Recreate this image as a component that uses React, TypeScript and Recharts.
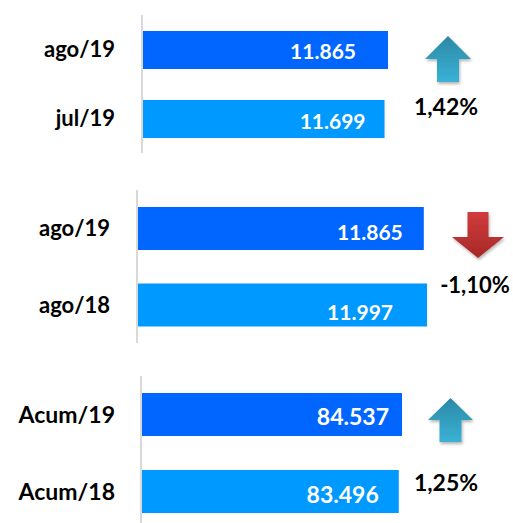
import { BarChart, Bar, XAxis, YAxis, Cell, LabelList } from "recharts";

// month vs previous month
const monthLabels = ["ago/19", "jul/19"];
const monthValues = [11865, 11699];
// month vs same month last year
const yearLabels = ["ago/19", "ago/18"];
const yearValues = [11865, 11997];
// accumulated
const accumLabels = ["Acum/19", "Acum/18"];
const accumValues = [84537, 83496];

const BAR_COLORS = ["#0066FF", "#0099FF"];
const FONT = "Lato, 'Open Sans', sans-serif";

const fmtInt = (v: number) =>
  String(v).replace(/\B(?=(\d{3})+(?!\d))/g, ".");

const fmtPct = (a: number, b: number) =>
  ((a / b - 1) * 100).toFixed(2).replace(".", ",") + "%";

const PANELS = [
  {
    labels: monthLabels,
    values: monthValues,
    top: 0,
    height: 175,
    margin: { top: 15, right: 125, bottom: 22, left: 0 },
    axisW: 142,
    tickMargin: 27,
    barSize: 38,
    tickFont: 22,
    valueFont: 21,
    valueOffsets: [32, 19],
    valueDy: [1.5, 2.5],
    arrow: { cx: 448, top: 36, bottom: 82, headW: 46, stemW: 22, headH: 23 },
    pct: { x: 446, y: 115, size: 23 },
  },
  {
    labels: yearLabels,
    values: yearValues,
    top: 175,
    height: 175,
    margin: { top: 15, right: 86, bottom: 7, left: 0 },
    axisW: 137,
    tickMargin: 27,
    barSize: 43,
    tickFont: 22,
    valueFont: 21,
    valueOffsets: [21, 34],
    valueDy: [4, 7.5],
    arrow: { cx: 478, top: 212, bottom: 258, headW: 52, stemW: 21, headH: 21 },
    pct: { x: 475, y: 293, size: 22 },
  },
  {
    labels: accumLabels,
    values: accumValues,
    top: 350,
    height: 180,
    margin: { top: 26, right: 111, bottom: 0, left: 0 },
    axisW: 141,
    tickMargin: 26,
    barSize: 43,
    tickFont: 23,
    valueFont: 23,
    valueOffsets: [13, 20],
    valueDy: [2.5, 3],
    arrow: { cx: 450.5, top: 398, bottom: 442, headW: 45, stemW: 22, headH: 22 },
    pct: { x: 446, y: 491, size: 23 },
  },
];

function Arrow({ cx, top, bottom, headW, stemW, headH, up }: any) {
  const h = headW / 2;
  const s = stemW / 2;
  const pts = up
    ? [
        [cx, top],
        [cx + h, top + headH],
        [cx + s, top + headH],
        [cx + s, bottom],
        [cx - s, bottom],
        [cx - s, top + headH],
        [cx - h, top + headH],
      ]
    : [
        [cx, bottom],
        [cx + h, bottom - headH],
        [cx + s, bottom - headH],
        [cx + s, top],
        [cx - s, top],
        [cx - s, bottom - headH],
        [cx - h, bottom - headH],
      ];
  return (
    <polygon
      points={pts.map((p) => p.join(",")).join(" ")}
      fill={up ? "url(#upGrad)" : "url(#downGrad)"}
      filter="url(#arrowShadow)"
    />
  );
}

function Panel({ p }: { p: (typeof PANELS)[number] }) {
  const data = p.labels.map((name, i) => ({ name, value: p.values[i] }));
  const max = Math.max(...p.values);

  const renderValue = (props: any) => {
    const { x, y, width, height, value, index } = props;
    const cy = Number(y) + Number(height) / 2;
    return (
      <text
        x={Number(x) + Number(width) - p.valueOffsets[index]}
        y={cy + p.valueFont * 0.36 + p.valueDy[index]}
        textAnchor="end"
        fill="#ffffff"
        fontSize={p.valueFont}
        fontFamily={FONT}
        fontWeight={700}
      >
        {fmtInt(value)}
      </text>
    );
  };

  return (
    <div style={{ position: "absolute", left: 0, top: p.top }}>
      <BarChart
        width={513}
        height={p.height}
        data={data}
        layout="vertical"
        margin={p.margin}
      >
        <XAxis
          type="number"
          domain={[0, max]}
          allowDataOverflow
          scale="linear"
          hide
        />
        <YAxis
          type="category"
          dataKey="name"
          width={p.axisW}
          axisLine={{ stroke: "#d9d9d9", strokeWidth: 2 }}
          tickLine={false}
          tickSize={0}
          tickMargin={p.tickMargin}
          tick={{
            fill: "#000000",
            fontSize: p.tickFont,
            fontWeight: 700,
            fontFamily: FONT,
          }}
        />
        <Bar dataKey="value" barSize={p.barSize} isAnimationActive={false}>
          {data.map((_, i) => (
            <Cell key={i} fill={BAR_COLORS[i]} />
          ))}
          <LabelList dataKey="value" content={renderValue} />
        </Bar>
      </BarChart>
    </div>
  );
}

export default function App() {
  return (
    <div
      style={{
        position: "absolute",
        left: 0,
        top: 0,
        width: 513,
        height: 523,
        overflow: "hidden",
        background: "#ffffff",
        fontFamily: FONT,
      }}
    >
      {PANELS.map((p, i) => (
        <Panel key={i} p={p} />
      ))}
      <svg
        width={513}
        height={523}
        style={{ position: "absolute", left: 0, top: 0, pointerEvents: "none" }}
      >
        <defs>
          <linearGradient id="upGrad" x1="0" y1="0" x2="0" y2="1">
            <stop offset="0%" stopColor="#2B88A6" />
            <stop offset="100%" stopColor="#3AB2D6" />
          </linearGradient>
          <linearGradient id="downGrad" x1="0" y1="0" x2="0" y2="1">
            <stop offset="0%" stopColor="#D23C3C" />
            <stop offset="100%" stopColor="#A62828" />
          </linearGradient>
          <filter id="arrowShadow" x="-30%" y="-30%" width="160%" height="160%">
            <feDropShadow dx="1" dy="2" stdDeviation="1.5" floodOpacity="0.3" />
          </filter>
        </defs>
        {PANELS.map((p, i) => {
          const a = p.values[0];
          const b = p.values[1];
          return (
            <g key={i}>
              <Arrow {...p.arrow} up={a >= b} />
              <text
                x={p.pct.x}
                y={p.pct.y}
                textAnchor="middle"
                fill="#000000"
                fontSize={p.pct.size}
                fontWeight={700}
                fontFamily={FONT}
              >
                {fmtPct(a, b)}
              </text>
            </g>
          );
        })}
      </svg>
    </div>
  );
}
